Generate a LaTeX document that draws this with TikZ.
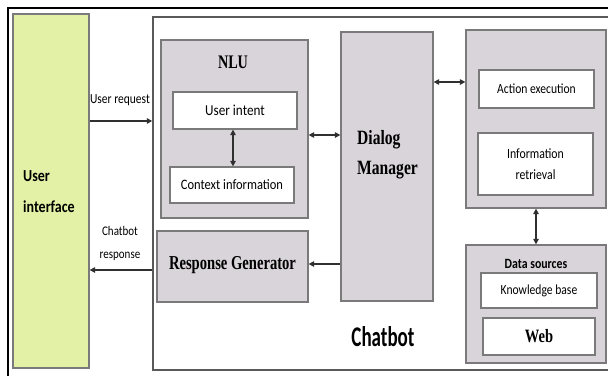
\documentclass[tikz,border=0pt]{standalone}
\usepackage{fontspec}
\setmainfont{Liberation Serif}
\newfontfamily\carl{Carlito}
\usetikzlibrary{arrows.meta,shadows}
\definecolor{uigreen}{HTML}{E2F1A6}
\definecolor{boxgray}{HTML}{D9D3DA}
\definecolor{edgegray}{HTML}{7A7A7A}
\definecolor{arrowcol}{HTML}{303030}
\newcommand{\vs}[2]{\scalebox{1}[#1]{#2}}
\tikzset{
  boxbase/.style={draw=edgegray, line width=1.3pt, inner sep=0pt,
    drop shadow={shadow xshift=0.8pt, shadow yshift=-1.2pt, fill=black!55, opacity=0.7}},
  graybox/.style={boxbase, fill=boxgray},
  whitebox/.style={boxbase, fill=white},
  greenbox/.style={boxbase, fill=uigreen},
  arr/.style={draw=arrowcol, line width=1.4pt, -{Triangle[length=5.5pt,width=5.5pt]}},
  biarr/.style={draw=arrowcol, line width=1.4pt, {Triangle[length=5.5pt,width=5.5pt]}-{Triangle[length=5.5pt,width=5.5pt]}},
  lbl/.style={inner sep=0pt, text=black},
}
\begin{document}
\begin{tikzpicture}[x=1pt,y=-1pt]
\clip (0,0) rectangle (608,375);
\fill[white] (0,0) rectangle (608,375);
% outer black frame (only top and left visible)
\draw[black, line width=2pt] (8,390) -- (8,8) -- (640,8);
% chatbot frame
\node[draw=black!65, line width=1.5pt, fill=white, minimum width=467pt, minimum height=353pt, inner sep=0pt] (frame) at (386.5,193.5) {};
% user interface
\node[greenbox, minimum width=76pt, minimum height=354pt] (ui) at (51,191) {};
\node[lbl, anchor=west, align=left, font=\carl\bfseries\fontsize{14}{31}\selectfont] (uitext) at (23,192) {\vs{1.2}{User}\\\vs{1.2}{interface}};
% NLU
\node[graybox, minimum width=147pt, minimum height=178pt] (nlu) at (234.5,129) {};
\node[lbl, font=\bfseries\fontsize{14.2}{16}\selectfont] (nlut) at (233,62) {\vs{1.35}{NLU}};
\node[whitebox, minimum width=124pt, minimum height=37pt, font=\carl\fontsize{13.2}{15}\selectfont] (intent) at (235,110.5) {\vs{1.15}{User intent}};
\node[whitebox, minimum width=124pt, minimum height=36pt, font=\carl\fontsize{12.5}{15}\selectfont] (context) at (232,185) {\vs{1.15}{Context information}};
% response generator
\node[graybox, minimum width=151pt, minimum height=71pt] (resp) at (232.5,266.5) {};
\node[lbl, font=\bfseries\fontsize{14.6}{16}\selectfont] (respt) at (232.5,265) {\vs{1.35}{Response Generator}};
% dialog manager
\node[graybox, minimum width=92pt, minimum height=269pt] (dm) at (387,166.5) {};
\node[lbl, anchor=west, align=left, font=\bfseries\fontsize{15.6}{30}\selectfont] (dmt) at (357,155) {\vs{1.3}{Dialog}\\\vs{1.3}{Manager}};
% right top box
\node[graybox, minimum width=140pt, minimum height=178pt] (rtop) at (536,119) {};
\node[whitebox, minimum width=115pt, minimum height=38pt, font=\carl\fontsize{11.6}{13}\selectfont] (action) at (536.5,89) {\vs{1.2}{Action execution}};
\node[whitebox, minimum width=115pt, minimum height=62pt, align=center, font=\carl\fontsize{11.8}{21}\selectfont] (info) at (535.5,164) {\vs{1.2}{Information}\\\vs{1.2}{retrieval}};
% data sources
\node[graybox, minimum width=140pt, minimum height=118pt] (ds) at (536,304) {};
\node[lbl, font=\carl\bfseries\fontsize{11.8}{13}\selectfont] (dst) at (536,264) {\vs{1.2}{Data sources}};
\node[whitebox, minimum width=116pt, minimum height=35pt, font=\carl\fontsize{11.6}{13}\selectfont] (kb) at (539,290.5) {\vs{1.2}{Knowledge base}};
\node[whitebox, minimum width=112pt, minimum height=37pt, font=\bfseries\fontsize{14.5}{16}\selectfont] (web) at (539,336.5) {\vs{1.3}{Web}};
% chatbot label
\node[lbl, font=\carl\bfseries\fontsize{19}{20}\selectfont] (cbt) at (383,337) {\vs{1.5}{Chatbot}};
% connector labels
\node[lbl, font=\carl\fontsize{11.5}{13}\selectfont] (ureq) at (120,100) {\vs{1.2}{User request}};
\node[lbl, align=center, font=\carl\fontsize{11}{23}\selectfont] (cresp) at (120,243) {\vs{1.2}{Chatbot}\\\vs{1.2}{response}};
% helper coordinates
\coordinate (yreq) at (0,121);
\coordinate (yresp) at (0,270);
\coordinate (ynlu) at (0,135);
\coordinate (ytop) at (0,82);
\coordinate (yrg) at (0,264);
\coordinate (xint) at (233,0);
% connectors
\draw[arr] (ui.east |- yreq) -- (frame.west |- yreq);
\draw[arr] (frame.west |- yresp) -- (ui.east |- yresp);
\draw[biarr] (nlu.east |- ynlu) -- (dm.west |- ynlu);
\draw[biarr] (dm.east |- ytop) -- (rtop.west |- ytop);
\draw[arr] (dm.west |- yrg) -- (resp.east |- yrg);
\draw[biarr] (xint |- intent.south) -- (xint |- context.north);
\draw[biarr] (rtop.south) -- (ds.north);
\end{tikzpicture}
\end{document}
